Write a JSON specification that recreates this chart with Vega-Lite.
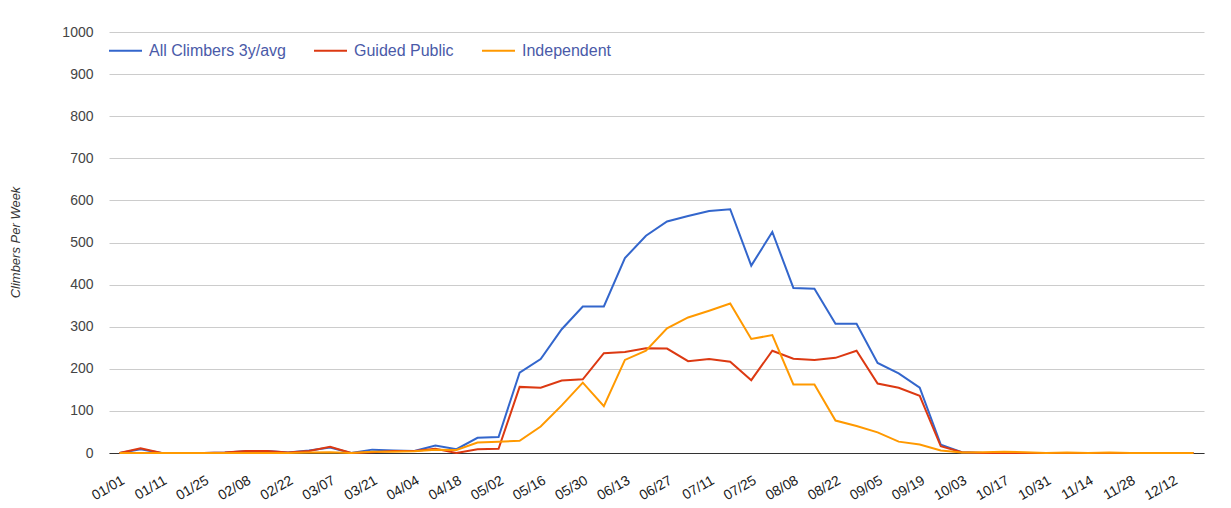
{
  "$schema": "https://vega.github.io/schema/vega-lite/v6.json",
  "width": 1095,
  "height": 421,
  "autosize": {"type": "none"},
  "padding": {"left": 109, "top": 32, "right": 27, "bottom": 55},
  "background": "white",
  "config": {"view": {"stroke": null}, "font": "Liberation Sans"},
  "data": {"values": [
    {"week": "01/01", "All Climbers 3y/avg": 0, "Guided Public": 0, "Independent": 0},
    {"week": "01/04", "All Climbers 3y/avg": 9, "Guided Public": 11, "Independent": 0},
    {"week": "01/11", "All Climbers 3y/avg": 0, "Guided Public": 0, "Independent": 0},
    {"week": "01/18", "All Climbers 3y/avg": 0, "Guided Public": 0, "Independent": 0},
    {"week": "01/25", "All Climbers 3y/avg": 0, "Guided Public": 0, "Independent": 0},
    {"week": "02/01", "All Climbers 3y/avg": 1, "Guided Public": 1, "Independent": 0},
    {"week": "02/08", "All Climbers 3y/avg": 4, "Guided Public": 5, "Independent": 0},
    {"week": "02/15", "All Climbers 3y/avg": 5, "Guided Public": 5, "Independent": 0},
    {"week": "02/22", "All Climbers 3y/avg": 1, "Guided Public": 1, "Independent": 0},
    {"week": "02/29", "All Climbers 3y/avg": 6, "Guided Public": 5, "Independent": 1},
    {"week": "03/07", "All Climbers 3y/avg": 13, "Guided Public": 15, "Independent": 2},
    {"week": "03/14", "All Climbers 3y/avg": 0, "Guided Public": 0, "Independent": 0},
    {"week": "03/21", "All Climbers 3y/avg": 8, "Guided Public": 2, "Independent": 3},
    {"week": "03/28", "All Climbers 3y/avg": 6, "Guided Public": 5, "Independent": 3},
    {"week": "04/04", "All Climbers 3y/avg": 5, "Guided Public": 5, "Independent": 4},
    {"week": "04/11", "All Climbers 3y/avg": 18, "Guided Public": 10, "Independent": 8},
    {"week": "04/18", "All Climbers 3y/avg": 9, "Guided Public": 0, "Independent": 7},
    {"week": "04/25", "All Climbers 3y/avg": 36, "Guided Public": 9, "Independent": 25},
    {"week": "05/02", "All Climbers 3y/avg": 38, "Guided Public": 10, "Independent": 27},
    {"week": "05/09", "All Climbers 3y/avg": 191, "Guided Public": 157, "Independent": 29},
    {"week": "05/16", "All Climbers 3y/avg": 223, "Guided Public": 155, "Independent": 63},
    {"week": "05/23", "All Climbers 3y/avg": 294, "Guided Public": 172, "Independent": 113},
    {"week": "05/30", "All Climbers 3y/avg": 348, "Guided Public": 175, "Independent": 167},
    {"week": "06/06", "All Climbers 3y/avg": 348, "Guided Public": 237, "Independent": 111},
    {"week": "06/13", "All Climbers 3y/avg": 463, "Guided Public": 240, "Independent": 221},
    {"week": "06/20", "All Climbers 3y/avg": 516, "Guided Public": 249, "Independent": 243},
    {"week": "06/27", "All Climbers 3y/avg": 550, "Guided Public": 248, "Independent": 296},
    {"week": "07/04", "All Climbers 3y/avg": 563, "Guided Public": 218, "Independent": 322},
    {"week": "07/11", "All Climbers 3y/avg": 575, "Guided Public": 223, "Independent": 338},
    {"week": "07/18", "All Climbers 3y/avg": 579, "Guided Public": 217, "Independent": 355},
    {"week": "07/25", "All Climbers 3y/avg": 445, "Guided Public": 173, "Independent": 271},
    {"week": "08/01", "All Climbers 3y/avg": 525, "Guided Public": 243, "Independent": 280},
    {"week": "08/08", "All Climbers 3y/avg": 392, "Guided Public": 224, "Independent": 163},
    {"week": "08/15", "All Climbers 3y/avg": 390, "Guided Public": 221, "Independent": 163},
    {"week": "08/22", "All Climbers 3y/avg": 307, "Guided Public": 226, "Independent": 77},
    {"week": "08/29", "All Climbers 3y/avg": 307, "Guided Public": 243, "Independent": 64},
    {"week": "09/05", "All Climbers 3y/avg": 214, "Guided Public": 165, "Independent": 49},
    {"week": "09/12", "All Climbers 3y/avg": 189, "Guided Public": 155, "Independent": 27},
    {"week": "09/19", "All Climbers 3y/avg": 155, "Guided Public": 136, "Independent": 20},
    {"week": "09/26", "All Climbers 3y/avg": 20, "Guided Public": 16, "Independent": 6},
    {"week": "10/03", "All Climbers 3y/avg": 2, "Guided Public": 2, "Independent": 1},
    {"week": "10/10", "All Climbers 3y/avg": 0, "Guided Public": 0, "Independent": 2},
    {"week": "10/17", "All Climbers 3y/avg": 0, "Guided Public": 0, "Independent": 3},
    {"week": "10/24", "All Climbers 3y/avg": 0, "Guided Public": 0, "Independent": 2},
    {"week": "10/31", "All Climbers 3y/avg": 0, "Guided Public": 0, "Independent": 0},
    {"week": "11/07", "All Climbers 3y/avg": 0, "Guided Public": 0, "Independent": 1},
    {"week": "11/14", "All Climbers 3y/avg": 0, "Guided Public": 0, "Independent": 0},
    {"week": "11/21", "All Climbers 3y/avg": 0, "Guided Public": 0, "Independent": 1},
    {"week": "11/28", "All Climbers 3y/avg": 0, "Guided Public": 0, "Independent": 0},
    {"week": "12/05", "All Climbers 3y/avg": 0, "Guided Public": 0, "Independent": 0},
    {"week": "12/12", "All Climbers 3y/avg": 0, "Guided Public": 0, "Independent": 0},
    {"week": "12/19", "All Climbers 3y/avg": 0, "Guided Public": 0, "Independent": 0}
  ]},
  "transform": [
    {"fold": ["All Climbers 3y/avg", "Guided Public", "Independent"], "as": ["series", "value"]}
  ],
  "mark": {"type": "line", "strokeWidth": 2},
  "encoding": {
    "x": {
      "field": "week", "type": "ordinal", "sort": null,
      "scale": {"type": "point", "padding": 0.5},
      "axis": {
        "title": null,
        "values": ["01/01","01/11","01/25","02/08","02/22","03/07","03/21","04/04","04/18","05/02","05/16","05/30","06/13","06/27","07/11","07/25","08/08","08/22","09/05","09/19","10/03","10/17","10/31","11/14","11/28","12/12"],
        "labelAngle": -30, "labelAlign": "right", "labelBaseline": "top",
        "labelFontSize": 14, "labelColor": "#222", "labelPadding": 20,
        "labelDx": -3,
        "labelOverlap": false, "labelBound": false,
        "ticks": false, "grid": false,
        "domain": true, "domainColor": "#333", "domainWidth": 1
      }
    },
    "y": {
      "field": "value", "type": "quantitative",
      "scale": {"domain": [0, 1000], "nice": false},
      "axis": {
        "values": [0,100,200,300,400,500,600,700,800,900,1000],
        "format": "d",
        "title": "Climbers Per Week",
        "titleFontStyle": "italic", "titleFontWeight": "normal",
        "titleFontSize": 13, "titleColor": "#333",
        "titleX": -94, "titleY": 210, "titleAngle": -90,
        "titleAlign": "center", "titleBaseline": "middle",
        "labelFontSize": 14, "labelColor": "#444", "labelPadding": 16,
        "ticks": false, "domain": false,
        "gridColor": "#cccccc", "gridWidth": 1
      }
    },
    "color": {
      "field": "series", "type": "nominal",
      "scale": {
        "domain": ["All Climbers 3y/avg", "Guided Public", "Independent"],
        "range": ["#3366cc", "#dc3912", "#ff9900"]
      },
      "legend": {
        "orient": "none", "legendX": -1, "legendY": 1,
        "direction": "horizontal", "title": null,
        "symbolType": "stroke", "symbolStrokeWidth": 2, "symbolSize": 1089,
        "labelFontSize": 16, "labelColor": "#4a5aa8", "labelOffset": 6,
        "columnPadding": 24
      }
    }
  }
}
